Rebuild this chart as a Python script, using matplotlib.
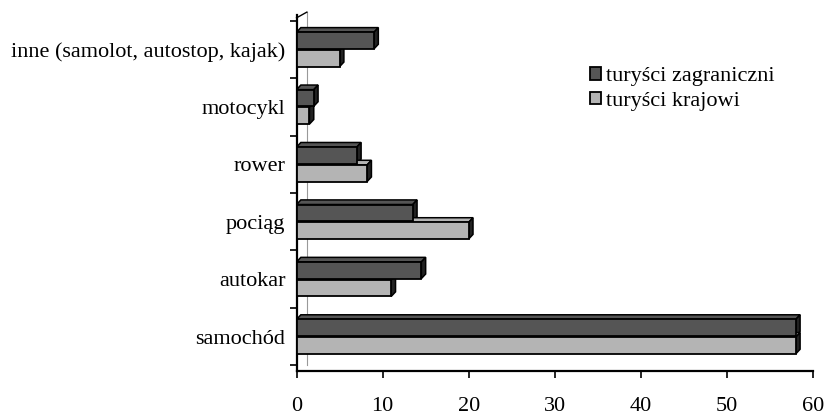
import numpy as np
import matplotlib.pyplot as plt
from matplotlib.patches import Polygon

plt.rcParams['font.family'] = ['Liberation Serif', 'DejaVu Serif']

# Data
categories = ['samochód', 'autokar', 'pociąg', 'rower', 'motocykl',
              'inne (samolot, autostop, kajak)']
zagraniczni = [58, 14.5, 13.5, 7, 2, 9]
krajowi = [58, 11, 20, 8.2, 1.5, 5]
series_labels = ['turyści zagraniczni', 'turyści krajowi']
x_ticks = [0, 10, 20, 30, 40, 50, 60]

dark = '#555555'
light = '#b4b4b4'
h = 0.29
dx, dy = 0.5, 0.08

fig = plt.figure(figsize=(8.33, 4.16), dpi=100)
ax = fig.add_axes([0.356, 0.108, 0.62, 0.856])

y = np.arange(len(categories))


def bars_3d(ys, vals, color, label):
    # front faces plus a thin top / right side for the 3D look
    ax.barh(ys, vals, height=h, color=color, edgecolor='black',
            linewidth=1.3, label=label, zorder=3)
    for yy, v in zip(ys, vals):
        top = yy + h / 2
        bot = yy - h / 2
        ax.add_patch(Polygon([[0, top], [dx, top + dy], [v + dx, top + dy],
                              [v, top]], closed=True, facecolor=color,
                             edgecolor='black', linewidth=1.1, zorder=2))
        ax.add_patch(Polygon([[v, bot], [v, top], [v + dx, top + dy],
                              [v + dx, bot + dy]], closed=True,
                             facecolor='#222222', edgecolor='black',
                             linewidth=1.1, zorder=2))


bars_3d(y + h / 2 + 0.01, zagraniczni, dark, series_labels[0])
bars_3d(y - h / 2 - 0.01, krajowi, light, series_labels[1])

ax.set_xlim(0, 60)
ax.set_ylim(-0.6, len(categories) - 0.4)
ax.set_xticks(x_ticks)
ax.set_xticklabels([str(t) for t in x_ticks], fontsize=16)
ax.set_yticks(y)
ax.set_yticklabels(categories, fontsize=16)
ax.tick_params(axis='y', length=0, pad=8)
ax.tick_params(axis='x', length=5, width=1.2, direction='out', pad=14)

# category boundary ticks on the left axis
ax.set_yticks(np.arange(-0.5, len(categories), 1), minor=True)
ax.tick_params(axis='y', which='minor', length=5, width=1.2, direction='out')

for s in ['top', 'right']:
    ax.spines[s].set_visible(False)
ax.spines['left'].set_linewidth(1.6)
ax.spines['bottom'].set_linewidth(1.6)

# back wall hint
ax.plot([0, 1.2], [len(categories) - 0.45, len(categories) - 0.35],
        color='black', lw=1, clip_on=False)
ax.plot([1.2, 1.2], [-0.5, len(categories) - 0.35], color='#999999',
        lw=0.8, zorder=1, clip_on=False)

leg = ax.legend(loc='upper left', bbox_to_anchor=(0.53, 0.91), frameon=False,
                fontsize=16, handlelength=0.5, handleheight=0.5,
                handletextpad=0.2, labelspacing=0.25)

fig.savefig('out.png', dpi=100)
